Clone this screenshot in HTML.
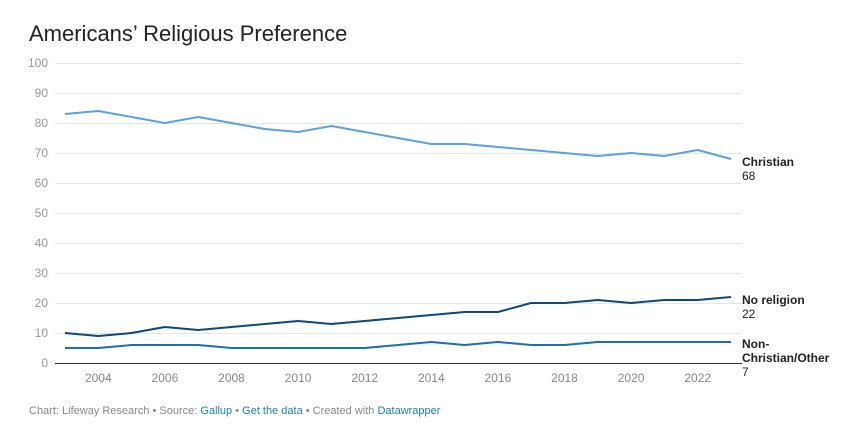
<!DOCTYPE html>
<html><head><meta charset="utf-8"><style>
body{margin:0;background:#fff;width:865px;height:436px;overflow:hidden;font-family:"Liberation Sans",Arial,sans-serif}
</style></head><body>
<svg id="s" width="865" height="436" xmlns="http://www.w3.org/2000/svg" font-family="Liberation Sans, Arial, sans-serif">
<text x="29" y="41" font-size="22" fill="#222">Americans’ Religious Preference</text>
<g id="grid"></g>
<g id="lines"></g>
<text x="742" y="166" font-size="12" font-weight="bold" fill="#222">Christian</text>
<text x="742" y="180" font-size="12" fill="#222">68</text>
<text x="742" y="304" font-size="12" font-weight="bold" fill="#222">No religion</text>
<text x="742" y="318" font-size="12" fill="#222">22</text>
<text x="742" y="348" font-size="12" font-weight="bold" fill="#222">Non-</text>
<text x="742" y="362" font-size="12" font-weight="bold" fill="#222">Christian/Other</text>
<text x="742" y="376" font-size="12" fill="#222">7</text>
<text x="29" y="414" font-size="11" fill="#888">Chart: Lifeway Research • Source: <tspan fill="#1d81a2">Gallup</tspan> • <tspan fill="#1d81a2">Get the data</tspan> • Created with <tspan fill="#1d81a2">Datawrapper</tspan></text>
</svg>
<script>
var ns="http://www.w3.org/2000/svg",g=document.getElementById('grid'),L=document.getElementById('lines');
function el(p,t,a){var e=document.createElementNS(ns,t);for(var k in a)e.setAttribute(k,a[k]);p.appendChild(e);return e;}
function Y(v){return 363-v*3;}function X(y){return 65+(y-2003)*33.3;}
for(var v=0;v<=100;v+=10){el(g,'line',{x1:55,x2:742,y1:Y(v)+.5,y2:Y(v)+.5,stroke:v?'#e6e6e6':'#333','stroke-width':1});
var t=el(g,'text',{x:48,y:Y(v)+4,'font-size':12,fill:'#999','text-anchor':'end'});t.textContent=v;}
for(var y=2004;y<=2022;y+=2){var t=el(g,'text',{x:X(y),y:382,'font-size':12,fill:'#888','text-anchor':'middle'});t.textContent=y;}
var D=[[[83,84,82,80,82,80,78,77,79,77,75,73,73,72,71,70,69,70,69,71,68],'#5ba3dc'],
[[10,9,10,12,11,12,13,14,13,14,15,16,17,17,20,20,21,20,21,21,22],'#0c4a7a'],
[[5,5,6,6,6,5,5,5,5,5,6,7,6,7,6,6,7,7,7,7,7],'#1f6fa8']];
D.forEach(function(d){el(L,'polyline',{points:d[0].map(function(v,i){return X(2003+i)+','+Y(v)}).join(' '),fill:'none',stroke:d[1],'stroke-width':2,'stroke-linejoin':'round'});});
</script>
</body></html>
